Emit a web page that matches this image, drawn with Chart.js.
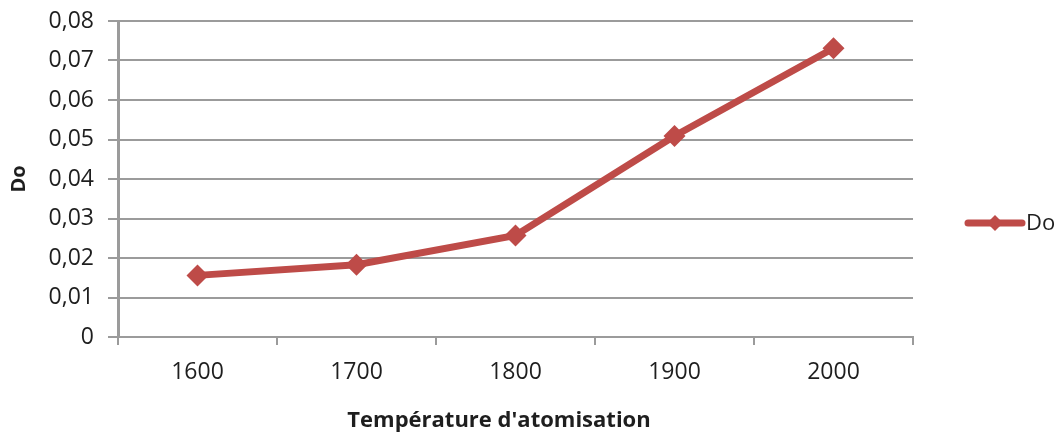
<!DOCTYPE html>
<html>
<head>
<meta charset="utf-8">
<script src="https://cdn.jsdelivr.net/npm/chart.js@4"></script>
<style>
  html, body { margin: 0; padding: 0; background: #fff; }
  #wrap { width: 1060px; height: 435px; }
</style>
</head>
<body>
<div id="wrap"><canvas id="c" width="1060" height="435"></canvas></div>
<script>
// Atomisation temperature categories and measured Do values
const temperatures = ['1600', '1700', '1800', '1900', '2000'];
const doValues = [0.0156, 0.0183, 0.0257, 0.0509, 0.0731];
const seriesName = 'Do';
const xTitle = "Température d'atomisation";
const yTitle = 'Do';
const yMin = 0, yMax = 0.08, yStep = 0.01;

const lineColor = '#BE4B48';
const gridColor = '#9b9b9b';
const textColor = '#1e1e1e';
const fontFamily = '"Open Sans", "Liberation Sans", sans-serif';

// Legend at the right: thick line with a diamond, then the series name;
// the category axis title is drawn under the axis, slightly left of centre
const annotations = {
  id: 'annotations',
  afterDraw(chart) {
    const ctx = chart.ctx;
    const ds = chart.data.datasets[0];
    const y = 223, x0 = 968, x1 = 1022;
    ctx.save();
    ctx.strokeStyle = ds.borderColor;
    ctx.lineWidth = 7;
    ctx.lineCap = 'round';
    ctx.beginPath();
    ctx.moveTo(x0, y);
    ctx.lineTo(x1, y);
    ctx.stroke();
    const cx = (x0 + x1) / 2, r = 8;
    ctx.fillStyle = ds.pointBackgroundColor;
    ctx.beginPath();
    ctx.moveTo(cx, y - r);
    ctx.lineTo(cx + r, y);
    ctx.lineTo(cx, y + r);
    ctx.lineTo(cx - r, y);
    ctx.closePath();
    ctx.fill();
    ctx.fillStyle = textColor;
    ctx.font = '22px ' + fontFamily;
    ctx.textBaseline = 'middle';
    ctx.textAlign = 'left';
    ctx.fillText(ds.label, 1026, y + 1);

    ctx.font = 'bold 22px ' + fontFamily;
    ctx.textAlign = 'center';
    ctx.fillText(xTitle, 499, 421);
    ctx.restore();
  }
};

new Chart(document.getElementById('c'), {
  type: 'line',
  data: {
    labels: temperatures,
    datasets: [{
      label: seriesName,
      data: doValues,
      borderColor: lineColor,
      backgroundColor: lineColor,
      pointBackgroundColor: lineColor,
      pointBorderColor: lineColor,
      borderWidth: 7,
      pointStyle: 'rectRot',
      pointRadius: 11,
      pointBorderWidth: 0,
      tension: 0,
      fill: false
    }]
  },
  options: {
    responsive: false,
    animation: false,
    events: [],
    layout: { padding: { left: 0, right: 147, top: 21, bottom: 0 } },
    plugins: {
      legend: { display: false },
      tooltip: { enabled: false }
    },
    scales: {
      x: {
        offset: true,
        grid: {
          offset: true,
          drawOnChartArea: false,
          color: gridColor,
          lineWidth: 2,
          tickLength: 8
        },
        border: { display: true, color: gridColor, width: 2 },
        ticks: {
          color: textColor,
          font: { family: fontFamily, size: 23 },
          padding: 14,
          maxRotation: 0
        },
        afterFit(scale) {
          scale.height = 98;
          scale.paddingLeft = 0;
          scale.paddingRight = 0;
        }
      },
      y: {
        min: yMin,
        max: yMax,
        ticks: {
          stepSize: yStep,
          color: textColor,
          font: { family: fontFamily, size: 23 },
          padding: 14,
          callback: (v) => v === 0 ? '0' : v.toFixed(2).replace('.', ',')
        },
        grid: {
          color: gridColor,
          lineWidth: 2,
          tickLength: 10
        },
        border: { display: true, color: gridColor, width: 3 },
        title: {
          display: true,
          text: yTitle,
          color: textColor,
          font: { family: fontFamily, size: 20, weight: 'bold' },
          padding: { top: 7, bottom: 0 }
        },
        afterFit(scale) {
          scale.width = 118;
          scale.paddingTop = 0;
          scale.paddingBottom = 0;
        }
      }
    }
  },
  plugins: [annotations]
});
</script>
</body>
</html>
